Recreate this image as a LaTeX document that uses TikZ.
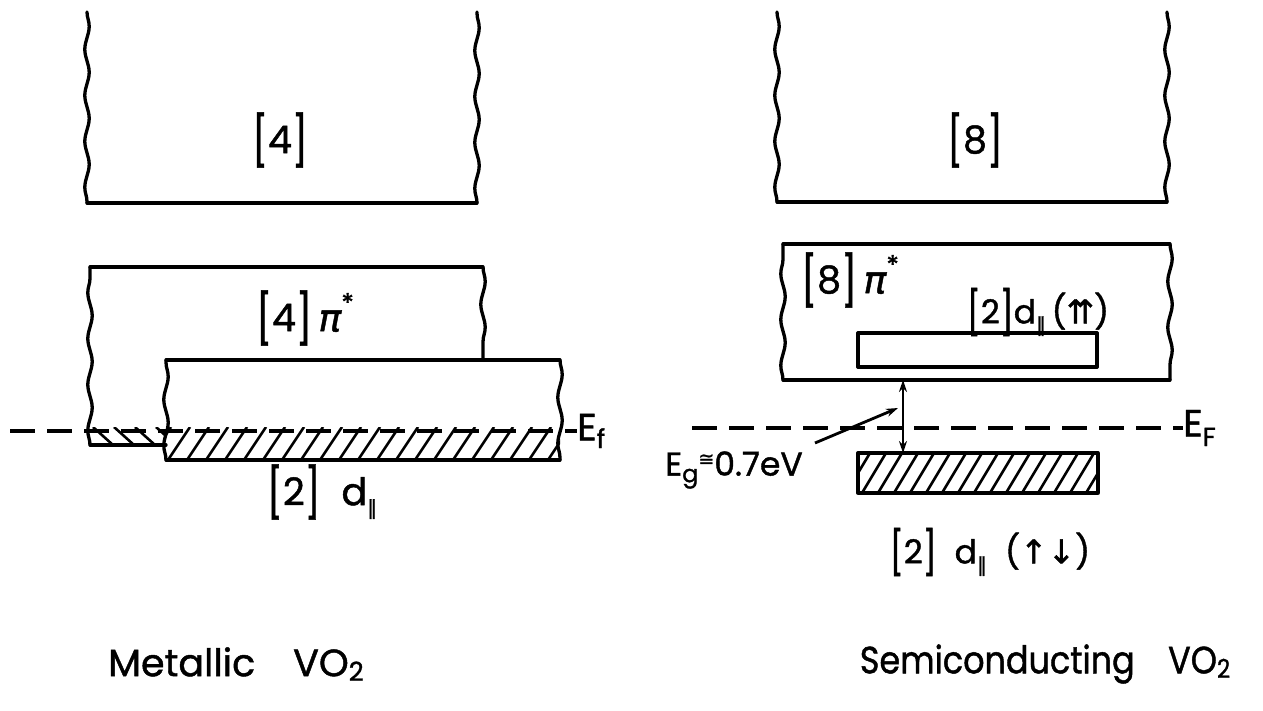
\documentclass[tikz,border=0pt]{standalone}
\usepackage{fontspec}
\usepackage{graphicx}
\setmainfont{Poppins}[FakeBold=1.2]
\newfontfamily\dejavu{DejaVu Sans}[FakeBold=1.2]
\usetikzlibrary{decorations.pathmorphing,arrows.meta}
\tikzset{
  edge/.style={line width=3.3pt, line cap=round, line join=round},
  wavy/.style={edge, decorate, decoration={snake, amplitude=2.2pt, segment length=46pt}},
  hatchline/.style={line width=2.6pt},
  fermi/.style={line width=3.2pt, dash pattern=on 25pt off 12pt},
  biglab/.style={font=\fontsize{38}{42}\selectfont, inner sep=0pt},
  midlab/.style={font=\fontsize{33}{36}\selectfont, inner sep=0pt},
  gaparrow/.style={line width=2.2pt, {Stealth[length=12pt,width=8pt]}-{Stealth[length=12pt,width=8pt]}},
  pointer/.style={line width=2.8pt, -{Stealth[length=12pt,width=8pt]}}
}
\newcommand{\lbr}{\raisebox{-0.14em}{\scalebox{1}[1.3]{[}}}
\newcommand{\rbr}{\raisebox{-0.14em}{\scalebox{1}[1.3]{]}}}
\newcommand{\br}[1]{\lbr#1\rbr}
\newcommand{\pistar}{{\dejavu\itshape π}\raisebox{0.5em}{\fontsize{26}{26}\selectfont *}}
\newcommand{\dpar}{d\raisebox{-0.25em}{\fontsize{20}{20}\selectfont\dejavu ∥}}
\newcommand{\subtwo}{\raisebox{-0.12em}{\fontsize{26}{26}\selectfont 2}}
\begin{document}
\begin{tikzpicture}[x=1pt,y=-1pt]
\useasboundingbox (0,0) rectangle (1263,711);

% ================= Metallic =================
\draw[wavy] (87,12) -- (87,203);
\draw[edge] (87,203) -- (477,203);
\draw[wavy] (477,203) -- (477,12);
\node[biglab] (m4) at (280,140) {\br{4}};

\begin{scope}
  \clip (166,427) rectangle (560,460);
  \foreach \x in {130,149,...,600} \draw[hatchline] (\x,460) -- (\x+22,427);
\end{scope}
\begin{scope}
  \clip (90,427) rectangle (166,445);
  \foreach \x in {72,93,...,180} \draw[hatchline] (\x,427) -- (\x+20,445);
\end{scope}

\draw[wavy] (90,445) -- (90,267);
\draw[edge] (90,267) -- (483,267);
\draw[wavy] (483,267) -- (483,360);
\draw[edge] (90,445) -- (166,445);
\node[biglab] (mpi) at (305,318) {\br{4}\,\pistar};

\draw[edge] (166,360) -- (560,360);
\draw[wavy] (560,360) -- (560,460);
\draw[edge] (560,460) -- (166,460);
\draw[wavy] (166,460) -- (166,360);
\node[biglab] (md) at (322,492) {\br{2}\; \dpar};

\node[biglab, anchor=west] (mEf) at (577,431) {E\raisebox{-0.2em}{\fontsize{26}{26}\selectfont f}};
\coordinate (mEfs) at (10,431);
\draw[fermi] (mEfs) -- (mEf.west);

\node[biglab] (mtitle) at (236,664) {Metallic\quad VO\subtwo};

% ================= Semiconducting =================
\draw[wavy] (777,12) -- (777,202);
\draw[edge] (777,202) -- (1167,202);
\draw[wavy] (1167,202) -- (1167,12);
\node[biglab] (s8) at (975,140) {\br{8}};

\draw[wavy] (783,380) -- (783,244);
\draw[edge] (783,244) -- (1170,244);
\draw[wavy] (1170,244) -- (1170,380);
\draw[edge] (1170,380) -- (783,380);
\node[biglab] (spi) at (850,280) {\br{8}\,\pistar};

\draw[edge] (858,333) -- (1097,333);
\draw[edge] (1097,333) -- (1097,367);
\draw[edge] (1097,367) -- (858,367);
\draw[edge] (858,367) -- (858,333);
\node[midlab] (sdup) at (1038,312) {\br{2}\dpar\,({\dejavu ⇈})};

\begin{scope}
  \clip (858,453) rectangle (1098,493);
  \foreach \x in {830,846,...,1120} \draw[hatchline] (\x,493) -- (\x+24,453);
\end{scope}
\draw[edge] (858,453) rectangle (1098,493);
\node[midlab] (sdd) at (990,552) {\br{2}\; \dpar\; ({\dejavu ↑↓})};

\node[biglab, anchor=west] (sEF) at (1183,428) {E\raisebox{-0.25em}{\fontsize{26}{26}\selectfont F}};
\coordinate (sEfs) at (692,428);
\draw[fermi] (sEfs) -- (sEF.west);

\coordinate (spibot) at (903,380);
\coordinate (shtop) at (903,453);
\draw[gaparrow] (spibot) -- (shtop);
\node[midlab] (sEg) at (734,470) {E\raisebox{-0.2em}{\fontsize{24}{24}\selectfont g}\raisebox{0.3em}{\fontsize{19}{19}\selectfont\dejavu ≅}0.7eV};
\coordinate (egtail) at (815,443);
\coordinate (eghead) at (898,408);
\draw[pointer] (egtail) -- (eghead);

\node[biglab] (stitle) at (1045,664) {\scalebox{0.88}[1]{Semiconducting\quad VO\subtwo}};
\end{tikzpicture}
\end{document}
